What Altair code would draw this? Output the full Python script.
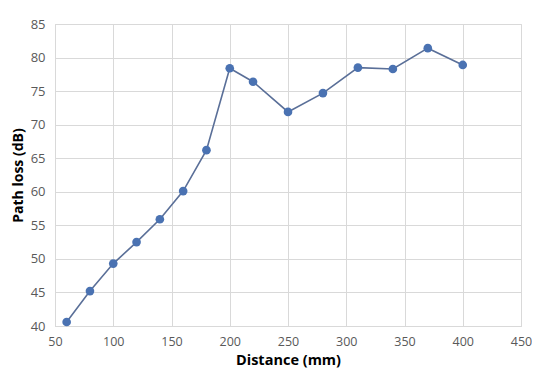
import altair as alt
import pandas as pd

distance = [60, 80, 100, 120, 140, 160, 180, 200, 220, 250, 280, 310, 340, 370, 400]
path_loss = [40.6, 45.2, 49.3, 52.5, 55.9, 60.1, 66.2, 78.4, 76.4, 71.9, 74.7, 78.5, 78.3, 81.4, 78.9]

df = pd.DataFrame({"Distance": distance, "PathLoss": path_loss})

FONT = "Open Sans"

x = alt.X("Distance:Q",
          scale=alt.Scale(domain=[50, 450], nice=False, zero=False),
          axis=alt.Axis(values=list(range(50, 451, 50)), title="Distance (mm)",
                        titleFontWeight="bold", titleFontSize=14.5, titleColor="#000000",
                        titleFont=FONT, titlePadding=6,
                        labelFont=FONT, labelFontSize=12.5, labelColor="#595959",
                        labelPadding=9, ticks=False, domain=True, domainColor="#d9d9d9",
                        gridColor="#d9d9d9", labelFlush=False))
y = alt.Y("PathLoss:Q",
          scale=alt.Scale(domain=[40, 85], nice=False, zero=False),
          axis=alt.Axis(values=list(range(40, 86, 5)), title="Path loss (dB)",
                        titleFontWeight="bold", titleFontSize=14, titleColor="#000000",
                        titleFont=FONT, titlePadding=5,
                        labelFont=FONT, labelFontSize=13, labelColor="#595959",
                        labelPadding=10, ticks=False, domain=True, domainColor="#d9d9d9",
                        gridColor="#d9d9d9"))

line = alt.Chart(df).mark_line(color="#5a6f98", strokeWidth=1.6).encode(x=x, y=y)
pts = alt.Chart(df).mark_point(filled=True, color="#4a72b2", opacity=1, size=75).encode(x=x, y=y)

chart = (line + pts).properties(
    width=466, height=302,
    autosize=alt.AutoSizeParams(type="none"),
    padding={"left": 47, "top": 16, "right": 11, "bottom": 44},
).configure_view(stroke="#d9d9d9").configure(background="white")

chart.save("out.html", embed_options={"renderer": "svg", "actions": False})
